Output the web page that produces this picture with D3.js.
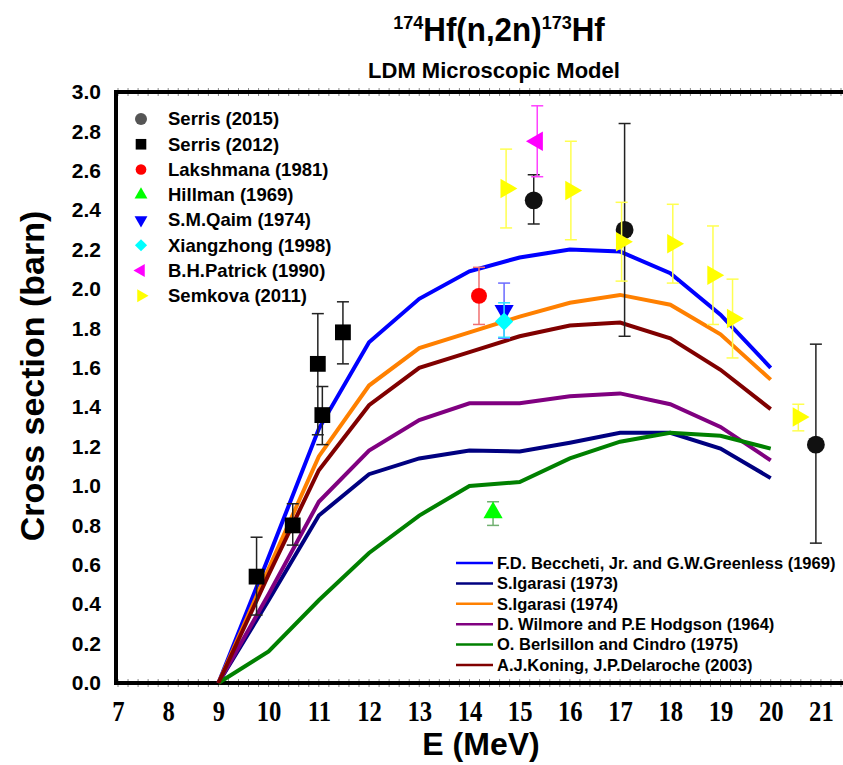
<!DOCTYPE html>
<html>
<head>
<meta charset="utf-8">
<script src="https://cdn.jsdelivr.net/npm/d3@7"></script>
<style>
  body { margin: 0; background: #fff; }
  svg { display: block; }
  text { font-family: "Liberation Sans", Arial, sans-serif; font-weight: bold; }
</style>
</head>
<body>
<div class="graph"></div>
<script>
const w = 843;
const h = 765;

// model curves (E in MeV, cross section in barn)
const energies = [9, 10, 11, 12, 13, 14, 15, 16, 17, 18, 19, 20];
const becchetti = [0, 0.64, 1.29, 1.73, 1.95, 2.09, 2.16, 2.20, 2.19, 2.08, 1.87, 1.60];
const igarasi73 = [0, 0.42, 0.85, 1.06, 1.14, 1.18, 1.175, 1.22, 1.27, 1.27, 1.19, 1.04];
const igarasi74 = [0, 0.58, 1.15, 1.51, 1.70, 1.78, 1.86, 1.93, 1.97, 1.92, 1.77, 1.54];
const wilmore = [0, 0.45, 0.92, 1.18, 1.335, 1.42, 1.42, 1.455, 1.47, 1.415, 1.30, 1.13];
const berlsillon = [0, 0.16, 0.42, 0.66, 0.85, 1.00, 1.02, 1.14, 1.225, 1.27, 1.255, 1.19];
const koning = [0, 0.55, 1.08, 1.41, 1.60, 1.68, 1.76, 1.815, 1.83, 1.75, 1.59, 1.39];

// experimental points: [E, value, low, high]
const serris2015 = [[15.28, 2.45, 2.33, 2.58], [17.09, 2.30, 1.76, 2.84], [20.90, 1.21, 0.71, 1.72]];
const serris2012 = [[9.76, 0.54, 0.345, 0.74], [10.48, 0.80, 0.70, 0.91], [10.98, 1.62, 1.26, 1.875], [11.07, 1.36, 1.21, 1.505], [11.48, 1.78, 1.62, 1.935]];
const lakshmana = [[14.19, 1.965, 1.82, 2.11]];
const hillman = [[14.47, 0.865, 0.80, 0.92]];
const qaim = [[14.69, 1.89, 1.75, 2.03]];
const xiangzhong = [[14.69, 1.835, 1.755, 1.93]];
const patrick = [[15.35, 2.75, 2.57, 2.93]];
const semkova = [[14.73, 2.51, 2.31, 2.71], [16.02, 2.50, 2.25, 2.75], [17.03, 2.24, 2.04, 2.44], [18.05, 2.23, 2.03, 2.43], [18.85, 2.07, 1.82, 2.32], [19.24, 1.85, 1.65, 2.05], [20.55, 1.35, 1.28, 1.415]];

const xTicks = [7, 8, 9, 10, 11, 12, 13, 14, 15, 16, 17, 18, 19, 20, 21];
const yTicks = [0, 0.2, 0.4, 0.6, 0.8, 1.0, 1.2, 1.4, 1.6, 1.8, 2.0, 2.2, 2.4, 2.6, 2.8, 3.0];

const models = [
  {name: "F.D. Beccheti, Jr. and G.W.Greenless (1969)", values: becchetti, color: "#0000ff"},
  {name: "S.Igarasi (1973)", values: igarasi73, color: "#000080"},
  {name: "S.Igarasi (1974)", values: igarasi74, color: "#ff8000"},
  {name: "D. Wilmore and P.E Hodgson (1964)", values: wilmore, color: "#800080"},
  {name: "O. Berlsillon and Cindro (1975)", values: berlsillon, color: "#008000"},
  {name: "A.J.Koning, J.P.Delaroche (2003)", values: koning, color: "#800000"}
];

const experiments = [
  {name: "Serris (2015)", data: serris2015, type: d3.symbolCircle, rot: 0, size: 250, color: "#111", legendColor: "#555", err: "#222"},
  {name: "Serris (2012)", data: serris2012, type: d3.symbolSquare, rot: 0, size: 250, color: "#000", legendColor: "#000", err: "#222"},
  {name: "Lakshmana (1981)", data: lakshmana, type: d3.symbolCircle, rot: 0, size: 200, color: "#ff0000", legendColor: "#ff0000", err: "#f07070"},
  {name: "Hillman (1969)", data: hillman, type: d3.symbolTriangle, rot: 0, size: 160, color: "#00ff00", legendColor: "#00ff00", err: "#70b070"},
  {name: "S.M.Qaim (1974)", data: qaim, type: d3.symbolTriangle, rot: 180, size: 160, color: "#0000ff", legendColor: "#0000ff", err: "#6a6aff"},
  {name: "Xiangzhong (1998)", data: xiangzhong, type: d3.symbolSquare, rot: 45, size: 165, color: "#00ffff", legendColor: "#00ffff", err: "#30e0ff"},
  {name: "B.H.Patrick (1990)", data: patrick, type: d3.symbolTriangle, rot: -90, size: 165, color: "#ff00ff", legendColor: "#ff00ff", err: "#ff40ff"},
  {name: "Semkova (2011)", data: semkova, type: d3.symbolTriangle, rot: 90, size: 165, color: "#ffff00", legendColor: "#ffff00", err: "#ffff50"}
];

const svg = d3.select(".graph").append("svg")
  .attr("width", w)
  .attr("height", h);

const x = d3.scaleLinear().domain([7, 21.44]).range([118, 843]);
const y = d3.scaleLinear().domain([0, 3]).range([683, 92]);

// titles
const title = svg.append("text")
  .attr("x", 499).attr("y", 41)
  .attr("text-anchor", "middle")
  .attr("transform", "translate(499,0) scale(0.95,1) translate(-499,0)")
  .style("font-size", "33px");
title.append("tspan").attr("dy", -12).style("font-size", "19px").text("174");
title.append("tspan").attr("dy", 12).text("Hf(n,2n)");
title.append("tspan").attr("dy", -12).style("font-size", "19px").text("173");
title.append("tspan").attr("dy", 12).text("Hf");

svg.append("text")
  .attr("x", 494).attr("y", 78)
  .attr("text-anchor", "middle")
  .style("font-size", "22px")
  .text("LDM Microscopic Model");

// axes
const xAxis = d3.axisBottom(x).tickValues(xTicks).tickSize(0).tickPadding(0);
const gx = svg.append("g").attr("transform", `translate(0,${y(0)})`).call(xAxis);
gx.select(".domain").remove();
gx.selectAll(".tick text")
  .attr("y", 0).attr("dy", 0)
  .attr("transform", "translate(0,38) scale(0.85,1)")
  .style("font-family", "'Liberation Serif', 'Times New Roman', serif")
  .style("font-weight", "bold")
  .style("font-size", "29px")
  .attr("fill", "#000");

const yAxis = d3.axisLeft(y).tickValues(yTicks).tickFormat(d3.format(".1f")).tickSize(0).tickPadding(15);
const gy = svg.append("g").attr("transform", `translate(${x(7) - 2},0)`).call(yAxis);
gy.select(".domain").remove();
gy.selectAll("text").style("font-size", "21px").attr("fill", "#000");

// minor ticks on top and bottom
const minor = d3.range(7, 21.45, 0.2);
[y(0), y(3)].forEach(yy => {
  svg.append("g").selectAll("line")
    .data(minor)
    .enter().append("line")
    .attr("x1", d => x(d)).attr("x2", d => x(d))
    .attr("y1", yy - 4).attr("y2", yy + 4)
    .attr("stroke", "#888").attr("stroke-width", 1);
});

// frame
svg.append("line").attr("x1", x(7) - 2).attr("x2", w).attr("y1", y(0)).attr("y2", y(0))
  .attr("stroke", "#000").attr("stroke-width", 4);
svg.append("line").attr("x1", x(7) - 2).attr("x2", w).attr("y1", y(3)).attr("y2", y(3))
  .attr("stroke", "#000").attr("stroke-width", 4);
svg.append("line").attr("x1", x(7) - 2).attr("x2", x(7) - 2).attr("y1", y(3) - 2).attr("y2", y(0) + 2)
  .attr("stroke", "#000").attr("stroke-width", 4);

// axis titles
svg.append("text")
  .attr("transform", "translate(44,376) rotate(-90)")
  .attr("text-anchor", "middle")
  .style("font-size", "34px")
  .text("Cross section (barn)");

svg.append("text")
  .attr("x", 481).attr("y", 755)
  .attr("text-anchor", "middle")
  .style("font-size", "32px")
  .text("E (MeV)");

// model curves
const line = d3.line()
  .x((d, i) => x(energies[i]))
  .y(d => y(d));

svg.append("g").selectAll("path")
  .data(models)
  .enter().append("path")
  .attr("d", d => line(d.values))
  .attr("fill", "none")
  .attr("stroke", d => d.color)
  .attr("stroke-width", 4);

// experimental points with error bars
const cap = 6;
experiments.forEach(s => {
  const g = svg.append("g");
  const bars = g.selectAll("g.err").data(s.data).enter().append("g").attr("class", "err")
    .attr("stroke", s.err).attr("stroke-width", 1.5);
  bars.append("line")
    .attr("x1", d => x(d[0])).attr("x2", d => x(d[0]))
    .attr("y1", d => y(d[2])).attr("y2", d => y(d[3]));
  bars.append("line")
    .attr("x1", d => x(d[0]) - cap).attr("x2", d => x(d[0]) + cap)
    .attr("y1", d => y(d[2])).attr("y2", d => y(d[2]));
  bars.append("line")
    .attr("x1", d => x(d[0]) - cap).attr("x2", d => x(d[0]) + cap)
    .attr("y1", d => y(d[3])).attr("y2", d => y(d[3]));
  g.selectAll("path").data(s.data).enter().append("path")
    .attr("d", d3.symbol().type(s.type).size(s.size))
    .attr("transform", d => `translate(${x(d[0])},${y(d[1])}) rotate(${s.rot})`)
    .attr("fill", s.color);
});

// legend for experiments
const legend1 = svg.append("g").attr("transform", "translate(141,119)");
const items1 = legend1.selectAll("g").data(experiments).enter().append("g")
  .attr("transform", (d, i) => `translate(0,${i * 25.25})`);
items1.append("path")
  .attr("d", d => d3.symbol().type(d.type).size(d.size * 0.45)())
  .attr("transform", d => `rotate(${d.rot})`)
  .attr("fill", d => d.legendColor);
items1.append("text")
  .attr("x", 27).attr("dy", "0.35em")
  .style("font-size", "18.5px")
  .text(d => d.name);

// legend for models
const legend2 = svg.append("g").attr("transform", "translate(456,563)");
const items2 = legend2.selectAll("g").data(models).enter().append("g")
  .attr("transform", (d, i) => `translate(0,${i * 20.4})`);
items2.append("line")
  .attr("x1", 0).attr("x2", 37)
  .attr("stroke", d => d.color).attr("stroke-width", 2.5);
items2.append("text")
  .attr("x", 41).attr("dy", "0.35em")
  .style("font-size", "16.5px")
  .text(d => d.name);
</script>
</body>
</html>
